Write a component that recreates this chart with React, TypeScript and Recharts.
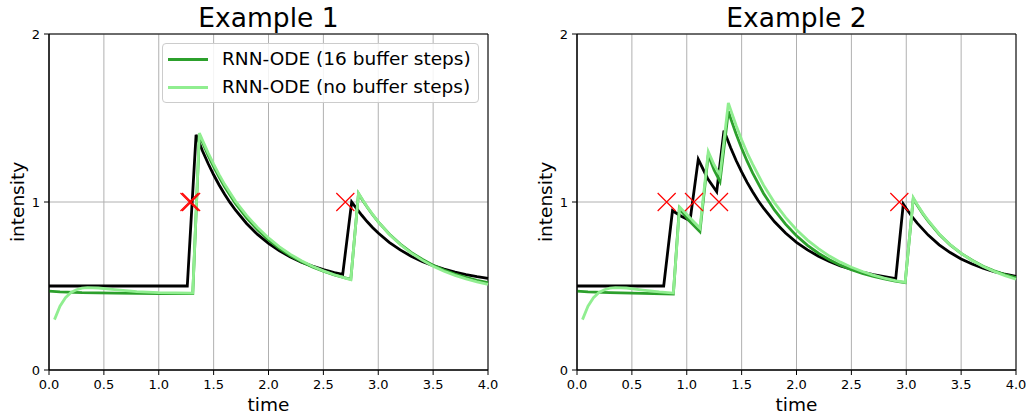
import React from "react";
import { ComposedChart, Line, XAxis, YAxis, CartesianGrid, ReferenceArea, Legend } from "recharts";

const FONT = "DejaVu Sans, Verdana, sans-serif";
const PANEL_W = 513;
const PANEL_H = 414;

const xTicks = [0, 0.5, 1, 1.5, 2, 2.5, 3, 3.5, 4];
const yTicks = [0, 1, 2];

// [time, intensity] pairs
const ex1Truth = [
  [0, 0.5], [1.26, 0.5], [1.34, 1.4], [1.4, 1.302], [1.45, 1.229], [1.5, 1.162], [1.55, 1.101],
  [1.6, 1.046], [1.65, 0.996], [1.7, 0.951], [1.8, 0.872], [1.9, 0.807], [2.0, 0.754], [2.1, 0.709],
  [2.2, 0.673], [2.3, 0.642], [2.4, 0.618], [2.5, 0.597], [2.6, 0.58], [2.676, 0.569], [2.758, 1.0],
  [2.8, 0.963], [2.85, 0.921], [2.9, 0.882], [2.95, 0.847], [3.0, 0.815], [3.1, 0.76], [3.2, 0.715],
  [3.3, 0.677], [3.4, 0.646], [3.5, 0.621], [3.6, 0.6], [3.7, 0.582], [3.8, 0.568], [3.9, 0.556],
  [4.0, 0.546],
];
const ex1Buffered = [
  [0, 0.47], [0.1, 0.465], [0.3, 0.46], [0.6, 0.457], [1.0, 0.455], [1.31, 0.455], [1.37, 1.4],
  [1.4, 1.353], [1.45, 1.278], [1.5, 1.211], [1.55, 1.149], [1.6, 1.091], [1.7, 0.99], [1.8, 0.906],
  [1.9, 0.835], [2.0, 0.774], [2.1, 0.723], [2.2, 0.68], [2.3, 0.644], [2.4, 0.614], [2.5, 0.588],
  [2.6, 0.566], [2.7, 0.548], [2.75, 0.54], [2.82, 1.05], [2.86, 1.008], [2.9, 0.969], [2.95, 0.923],
  [3.0, 0.882], [3.1, 0.81], [3.2, 0.75], [3.3, 0.7], [3.4, 0.659], [3.5, 0.624], [3.6, 0.595],
  [3.7, 0.571], [3.8, 0.551], [3.9, 0.534], [4.0, 0.52],
];
const ex1NoBuffer = [
  [0.05, 0.3], [0.1, 0.38], [0.15, 0.43], [0.2, 0.462], [0.25, 0.478], [0.3, 0.487], [0.35, 0.49],
  [0.45, 0.488], [0.6, 0.478], [0.8, 0.466], [1.0, 0.46], [1.31, 0.458], [1.37, 1.41], [1.4, 1.365],
  [1.45, 1.292], [1.5, 1.225], [1.55, 1.163], [1.6, 1.105], [1.7, 1.004], [1.8, 0.92], [1.9, 0.848],
  [2.0, 0.786], [2.1, 0.733], [2.2, 0.688], [2.3, 0.65], [2.4, 0.618], [2.5, 0.59], [2.6, 0.567],
  [2.7, 0.547], [2.75, 0.538], [2.82, 1.052], [2.86, 1.01], [2.9, 0.97], [2.95, 0.925], [3.0, 0.882],
  [3.1, 0.808], [3.2, 0.747], [3.3, 0.696], [3.4, 0.654], [3.5, 0.618], [3.6, 0.588], [3.7, 0.563],
  [3.8, 0.542], [3.9, 0.525], [4.0, 0.51],
];
const ex1Events = [1.28, 1.295, 2.7];

const ex2Truth = [
  [0, 0.5], [0.79, 0.5], [0.87, 0.948], [0.95, 0.915], [1.03, 0.889], [1.105, 1.254], [1.19, 1.14],
  [1.273, 1.061], [1.339, 1.425], [1.4, 1.323], [1.45, 1.247], [1.5, 1.179], [1.55, 1.117],
  [1.6, 1.061], [1.65, 1.009], [1.7, 0.963], [1.8, 0.882], [1.9, 0.815], [2.0, 0.76], [2.1, 0.715],
  [2.2, 0.677], [2.3, 0.646], [2.4, 0.62], [2.5, 0.6], [2.6, 0.582], [2.7, 0.568], [2.8, 0.556],
  [2.904, 0.544], [2.973, 0.988], [3.0, 0.961], [3.05, 0.915], [3.1, 0.874], [3.2, 0.803],
  [3.3, 0.745], [3.4, 0.699], [3.5, 0.661], [3.6, 0.631], [3.7, 0.606], [3.8, 0.586], [3.9, 0.57],
  [4.0, 0.557],
];
const ex2Buffered = [
  [0, 0.47], [0.1, 0.465], [0.3, 0.46], [0.6, 0.456], [0.878, 0.452], [0.932, 0.962], [1.02, 0.89],
  [1.12, 0.823], [1.196, 1.28], [1.25, 1.19], [1.303, 1.122], [1.379, 1.54], [1.4, 1.498],
  [1.45, 1.405], [1.5, 1.32], [1.55, 1.243], [1.6, 1.173], [1.7, 1.051], [1.8, 0.951], [1.9, 0.868],
  [2.0, 0.799], [2.1, 0.742], [2.2, 0.695], [2.3, 0.656], [2.4, 0.624], [2.5, 0.597], [2.6, 0.575],
  [2.7, 0.557], [2.8, 0.542], [2.9, 0.529], [2.99, 0.52], [3.064, 1.02], [3.1, 0.981], [3.15, 0.931],
  [3.2, 0.886], [3.3, 0.808], [3.4, 0.745], [3.5, 0.694], [3.6, 0.653], [3.7, 0.618], [3.8, 0.591],
  [3.9, 0.568], [4.0, 0.55],
];
const ex2NoBuffer = [
  [0.05, 0.3], [0.1, 0.38], [0.15, 0.43], [0.2, 0.462], [0.25, 0.478], [0.3, 0.487], [0.35, 0.49],
  [0.45, 0.488], [0.6, 0.476], [0.75, 0.465], [0.878, 0.458], [0.935, 0.97], [1.03, 0.905],
  [1.12, 0.845], [1.196, 1.3], [1.25, 1.22], [1.303, 1.16], [1.379, 1.59], [1.4, 1.55], [1.45, 1.455],
  [1.5, 1.37], [1.55, 1.293], [1.6, 1.225], [1.7, 1.1], [1.8, 0.995], [1.9, 0.908], [2.0, 0.835],
  [2.1, 0.773], [2.2, 0.722], [2.3, 0.678], [2.4, 0.642], [2.5, 0.612], [2.6, 0.586], [2.7, 0.565],
  [2.8, 0.547], [2.9, 0.532], [2.99, 0.522], [3.064, 1.025], [3.1, 0.985], [3.15, 0.934], [3.2, 0.89],
  [3.3, 0.81], [3.4, 0.746], [3.5, 0.694], [3.6, 0.652], [3.7, 0.616], [3.8, 0.587], [3.9, 0.562],
  [4.0, 0.54],
];
const ex2Events = [0.817, 1.066, 1.294, 2.937];

const legendItems = [
  { label: "RNN-ODE (16 buffer steps)", color: "#2ca02c" },
  { label: "RNN-ODE (no buffer steps)", color: "#90ee90" },
];

const toPts = (pairs: number[][]) => pairs.map(([t, v]) => ({ t, v }));
const toEvents = (times: number[]) => times.map((t) => ({ t, v: 1 }));

const CrossDot = (props: any) => {
  const { cx, cy, index } = props;
  if (cx == null || cy == null) return <g key={index} />;
  const r = 9;
  return (
    <path
      key={index}
      d={`M${cx - r},${cy - r}L${cx + r},${cy + r}M${cx - r},${cy + r}L${cx + r},${cy - r}`}
      stroke="#ff0000"
      strokeWidth={1.2}
      fill="none"
    />
  );
};

const LegendBox = () => (
  <div
    style={{
      width: 317,
      height: 60,
      boxSizing: "border-box",
      border: "1px solid #cccccc",
      borderRadius: 4,
      background: "rgba(255,255,255,0.85)",
      fontFamily: FONT,
      fontSize: 18.5,
      color: "#000",
      position: "relative",
    }}
  >
    {legendItems.map((it, i) => (
      <div
        key={it.label}
        style={{ position: "absolute", left: 5, top: 3 + i * 28, height: 24, display: "flex", alignItems: "center" }}
      >
        <span style={{ display: "inline-block", width: 40, height: 0, borderTop: `3px solid ${it.color}` }} />
        <span style={{ marginLeft: 14, lineHeight: "24px", whiteSpace: "nowrap" }}>{it.label}</span>
      </div>
    ))}
  </div>
);

type PanelProps = {
  title: string;
  left: number;
  axisWidth: number;
  marginRight: number;
  truth: number[][];
  buffered: number[][];
  noBuffer: number[][];
  events: number[];
  showLegend?: boolean;
};

function Panel({ title, left, axisWidth, marginRight, truth, buffered, noBuffer, events, showLegend }: PanelProps) {
  const plotLeft = axisWidth;
  const plotRight = PANEL_W - marginRight;
  const midX = (plotLeft + plotRight) / 2;
  const top = 34;
  const bottom = 370;
  return (
    <div style={{ position: "absolute", left, top: 0, width: PANEL_W, height: PANEL_H }}>
      <ComposedChart width={PANEL_W} height={PANEL_H} margin={{ top, right: marginRight, bottom: 0, left: 0 }}>
        <CartesianGrid stroke="#b0b0b0" strokeWidth={1} />
        <XAxis
          dataKey="t"
          type="number"
          domain={[0, 4]}
          ticks={xTicks}
          tickFormatter={(v: number) => v.toFixed(1)}
          height={PANEL_H - bottom}
          tickSize={5}
          tickMargin={5}
          axisLine={{ stroke: "#000" }}
          tickLine={{ stroke: "#000" }}
          tick={{ fontFamily: FONT, fontSize: 13, fill: "#000" }}
          interval={0}
        />
        <YAxis
          type="number"
          domain={[0, 2]}
          ticks={yTicks}
          width={axisWidth}
          tickSize={5}
          tickMargin={4}
          axisLine={{ stroke: "#000" }}
          tickLine={{ stroke: "#000" }}
          tick={{ fontFamily: FONT, fontSize: 13, fill: "#000" }}
          interval={0}
        />
        <ReferenceArea x1={0} x2={4} y1={0} y2={2} fill="none" fillOpacity={0} stroke="#000" strokeWidth={1} />
        <Line data={toPts(truth)} dataKey="v" name="truth" stroke="#000" strokeWidth={2.8} dot={false} activeDot={false} type="linear" isAnimationActive={false} />
        <Line data={toPts(buffered)} dataKey="v" name={legendItems[0].label} stroke={legendItems[0].color} strokeWidth={2.8} dot={false} activeDot={false} type="linear" isAnimationActive={false} />
        <Line data={toPts(noBuffer)} dataKey="v" name={legendItems[1].label} stroke={legendItems[1].color} strokeWidth={2.8} dot={false} activeDot={false} type="linear" isAnimationActive={false} />
        <Line data={toEvents(events)} dataKey="v" name="events" stroke="none" dot={CrossDot} activeDot={false} isAnimationActive={false} />
        {showLegend && (
          <Legend
            layout="vertical"
            align="center"
            verticalAlign="middle"
            content={<LegendBox />}
            wrapperStyle={{ position: "absolute", left: 162, top: 43, width: 317, height: 60 }}
          />
        )}
      </ComposedChart>
      <svg
        width={PANEL_W}
        height={PANEL_H}
        style={{ position: "absolute", left: 0, top: 0, pointerEvents: "none" }}
        fontFamily={FONT}
      >
        <text x={midX} y={26.7} textAnchor="middle" fontSize={26.5} fill="#000">{title}</text>
        <text x={midX} y={411} textAnchor="middle" fontSize={18.5} fill="#000">time</text>
        <text
          x={plotLeft - 25}
          y={(top + bottom) / 2}
          textAnchor="middle"
          fontSize={18.5}
          fill="#000"
          transform={`rotate(-90 ${plotLeft - 25} ${(top + bottom) / 2})`}
        >
          intensity
        </text>
      </svg>
    </div>
  );
}

export default function App() {
  return (
    <div style={{ position: "absolute", left: 0, top: 0, width: 1026, height: 414, background: "#fff" }}>
      <Panel title="Example 1" left={0} axisWidth={49} marginRight={25} truth={ex1Truth} buffered={ex1Buffered} noBuffer={ex1NoBuffer} events={ex1Events} showLegend />
      <Panel title="Example 2" left={513} axisWidth={64} marginRight={10} truth={ex2Truth} buffered={ex2Buffered} noBuffer={ex2NoBuffer} events={ex2Events} />
    </div>
  );
}
